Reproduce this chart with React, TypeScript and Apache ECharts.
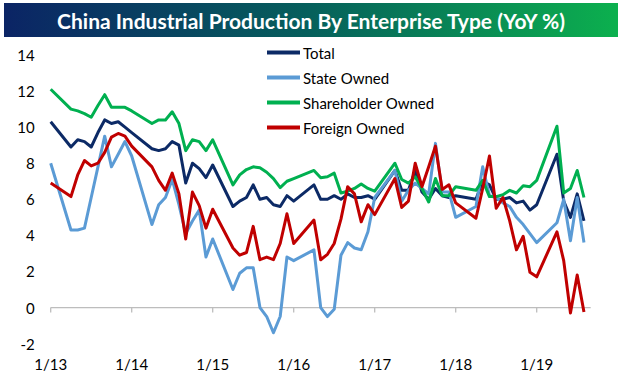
import React, { useEffect, useRef } from "react";
import * as echarts from "echarts";

// Month slots from 1/13; Jan/Feb readings are absent (null) as in the source chart.
const yearTicks = ["1/13", "1/14", "1/15", "1/16", "1/17", "1/18", "1/19", "1/20"];

const total = [
  10.3, null, null, 8.9, 9.3, 9.2, 8.9, 9.7, 10.4, 10.2, 10.3, 10.0,
  9.7, null, null, 8.8, 8.7, 8.8, 9.2, 9.0, 6.9, 8.0, 7.7, 7.2,
  7.9, null, null, 5.6, 5.9, 6.1, 6.8, 6.0, 6.1, 5.7, 5.6, 6.2,
  5.9, null, null, 6.8, 6.0, 6.0, 6.2, 6.0, 6.3, 6.1, 6.1, 6.2,
  6.0, null, null, 7.6, 6.5, 6.5, 7.6, 6.4, 6.0, 6.6, 6.2, 6.1,
  6.2, null, null, 6.0, 7.0, 6.8, 6.0, 6.0, 6.1, 5.8, 5.9, 5.4,
  5.7, null, null, 8.5, 5.9, 5.0, 6.3, 4.8, null,
];

const stateOwned = [
  8.0, null, null, 4.3, 4.3, 4.4, 6.1, 7.8, 9.5, 7.8, 8.5, 9.2,
  8.4, null, null, 4.6, 5.7, 6.1, 7.1, 5.7, 4.1, 4.8, 5.4, 2.8,
  3.8, null, null, 1.0, 1.9, 2.2, 2.2, 0.0, -0.5, -1.4, -0.5, 2.8,
  2.6, null, null, 3.2, 0.0, -0.5, -0.1, 2.9, 3.6, 3.3, 3.2, 4.2,
  6.1, null, null, 7.6, 5.9, 6.5, 6.9, 6.6, 6.3, 9.1, 6.4, 6.4,
  5.0, null, null, 5.6, 7.8, 6.2, 6.1, 5.8, 5.6, 5.0, 4.6, 4.1,
  3.6, null, null, 4.7, 6.0, 3.7, 6.1, 3.6, null,
];

const shareholderOwned = [
  12.1, null, null, 11.0, 10.9, 10.75, 10.55, 11.2, 11.8, 11.1, 11.1, 11.1,
  10.9, null, null, 10.2, 10.4, 10.4, 10.85, 10.2, 8.7, 9.3, 9.2, 8.7,
  9.3, null, null, 6.8, 7.35, 7.65, 7.8, 7.75, 7.5, 7.15, 6.65, 7.0,
  7.15, null, null, 7.6, 7.2, 7.25, 7.45, 6.35, 6.45, 6.6, 6.85, 6.6,
  6.45, null, null, 8.0, 7.1, 6.9, 7.25, 6.6, 5.85, 7.15, 6.2, 6.2,
  6.7, null, null, 6.5, 7.05, 6.15, 6.15, 6.25, 6.5, 6.35, 6.75, 6.7,
  7.05, null, null, 10.05, 6.35, 6.6, 7.6, 6.1, null,
];

const foreignOwned = [
  6.9, null, null, 6.15, 7.35, 8.15, 7.85, 8.0, 8.6, 9.45, 9.65, 9.5,
  8.95, null, null, 7.8, 7.05, 6.5, 7.45, 6.3, 3.8, 6.4, 5.65, 4.4,
  5.45, null, null, 3.3, 2.9, 3.05, 4.5, 2.65, 2.8, 2.65, 3.55, 5.2,
  3.55, null, null, 4.85, 2.65, 2.95, 3.55, 4.9, 6.7, 6.3, 4.75, 5.7,
  5.15, null, null, 7.15, 5.55, 5.9, 8.0, 6.7, 7.8, 8.95, 6.55, 6.8,
  5.8, null, null, 4.95, 6.6, 8.4, 5.5, 6.1, 4.8, 3.2, 3.95, 1.95,
  1.7, null, null, 4.2, 2.6, -0.3, 1.8, -0.25, null,
];

const seriesNames = ["Total", "State Owned", "Shareholder Owned", "Foreign Owned"];
const seriesColors = ["#0C2A66", "#5B9BD5", "#00B050", "#C00000"];
const titleText = "China Industrial Production By Enterprise Type (YoY %)";

// category slots: month/yy, labels shown only for January
const categories: string[] = [];
for (let y = 0; y < 7; y++) {
  for (let m = 1; m <= 12; m++) {
    if (categories.length < total.length) {
      categories.push(m === 1 ? yearTicks[y] : `${m}/${13 + y}`);
    }
  }
}

const Y_MIN = -2;
const Y_MAX = 14;
const GRID_TOP = 55;
const GRID_BOTTOM = 36.4;
const GRID_LEFT = 50.7;
const GRID_RIGHT = 31.3;
const H = 380;
const AXIS_GRAY = "#BDBDBD";

export default function App() {
  const ref = useRef<HTMLDivElement>(null);
  useEffect(() => {
    if (!ref.current) return;
    const chart = echarts.init(ref.current, null, { renderer: "svg" });
    const font = "Lato, 'Open Sans', sans-serif";
    const allData = [total, stateOwned, shareholderOwned, foreignOwned];
    const titleGraphics = [
      {
        type: "rect",
        shape: { x: 4, y: 3, width: 614, height: 34 },
        style: {
          fill: new echarts.graphic.LinearGradient(0, 0, 1, 0, [
            { offset: 0, color: "#0B2465" },
            { offset: 0.5, color: "#06605C" },
            { offset: 1, color: "#0CB04E" },
          ]),
        },
        z: 10,
      },
      {
        type: "text",
        x: 311,
        y: 20,
        style: {
          text: titleText,
          fill: "#ffffff",
          font: `bold 21px ${font}`,
          align: "center",
          verticalAlign: "middle",
        },
        z: 11,
      },
    ];
    chart.setOption({
      animation: false,
      backgroundColor: "#ffffff",
      graphic: titleGraphics,
      legend: {
        data: seriesNames,
        orient: "vertical",
        left: 262,
        top: 40,
        itemGap: 10,
        itemWidth: 33,
        itemHeight: 4,
        icon: "rect",
        textStyle: { fontFamily: font, fontSize: 15, color: "#000000", padding: [0, 0, 0, -2] },
      },
      grid: {
        left: GRID_LEFT,
        right: GRID_RIGHT,
        top: GRID_TOP,
        bottom: GRID_BOTTOM,
        containLabel: false,
        outerBoundsMode: "none",
      },
      xAxis: {
        type: "category",
        data: categories,
        boundaryGap: false,
        position: "bottom",
        axisLine: { show: false, onZero: false },
        axisTick: { show: false },
        axisLabel: {
          interval: 11,
          margin: 13,
          fontFamily: font,
          fontSize: 15,
          color: "#000000",
        },
        splitLine: { show: false },
      },
      yAxis: {
        type: "value",
        min: Y_MIN,
        max: Y_MAX,
        interval: 2,
        axisLine: { show: false },
        axisTick: { show: false },
        splitLine: { show: false },
        axisLabel: { margin: 16, fontFamily: font, fontSize: 15, color: "#000000" },
      },
      series: seriesNames.map((name, k) => ({
        name,
        type: "line",
        data: allData[k],
        connectNulls: true,
        showSymbol: false,
        symbol: "none",
        color: seriesColors[k],
        lineStyle: { width: 3, color: seriesColors[k], join: "round" },
        z: 3,
      })),
    });

    // zero line + year ticks, positioned through the chart's own scales
    const axisGraphics: any[] = [];
    const p0 = chart.convertToPixel({ xAxisIndex: 0, yAxisIndex: 0 }, [0, 0]) as number[];
    const p1 = chart.convertToPixel(
      { xAxisIndex: 0, yAxisIndex: 0 },
      [categories.length - 1, 0]
    ) as number[];
    if (p0 && p1) {
      axisGraphics.push({
        type: "line",
        shape: { x1: p0[0], y1: p0[1], x2: p1[0], y2: p1[1] },
        style: { stroke: AXIS_GRAY, lineWidth: 1.3 },
        z: 1,
        silent: true,
      });
      for (let i = 0; i < categories.length; i += 12) {
        const p = chart.convertToPixel({ xAxisIndex: 0, yAxisIndex: 0 }, [i, 0]) as number[];
        axisGraphics.push({
          type: "line",
          shape: { x1: p[0], y1: p[1], x2: p[0], y2: p[1] + 5 },
          style: { stroke: AXIS_GRAY, lineWidth: 1.3 },
          z: 1,
          silent: true,
        });
      }
    }
    chart.setOption({ graphic: [...titleGraphics, ...axisGraphics] }, { replaceMerge: ["graphic"] });

    return () => chart.dispose();
  }, []);
  return (
    <div
      ref={ref}
      style={{ position: "fixed", left: 0, top: 0, width: 622, height: H }}
    />
  );
}
